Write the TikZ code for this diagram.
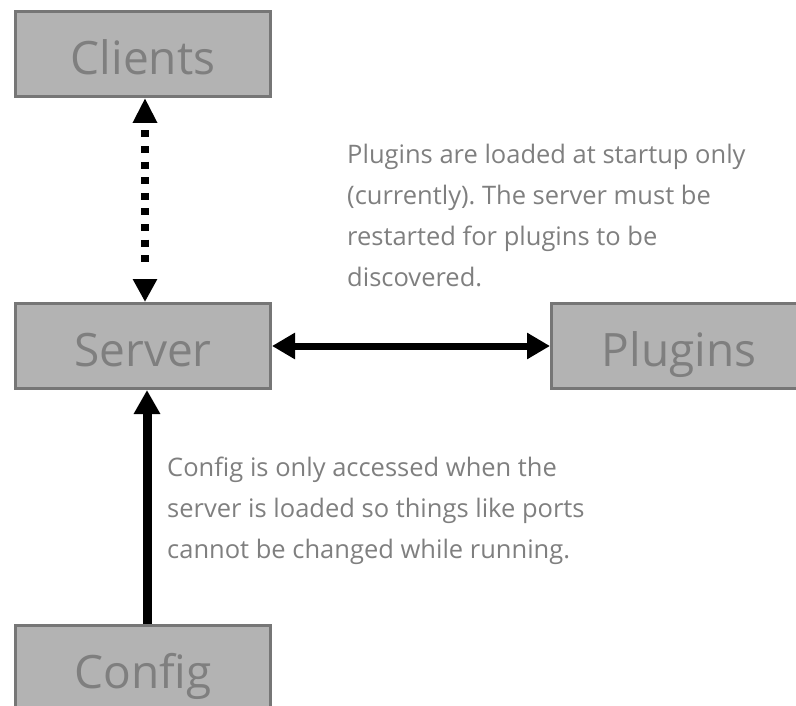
\documentclass[tikz,border=0pt]{standalone}
\usepackage{fontspec}
\setmainfont{Open Sans}[Ligatures=NoCommon]
\usetikzlibrary{arrows.meta}
\definecolor{boxfill}{HTML}{B3B3B3}
\definecolor{boxline}{HTML}{767676}
\definecolor{txtgray}{HTML}{7F7F7F}
\frenchspacing
\begin{document}
\begin{tikzpicture}[x=1pt,y=-1pt,
  box/.style={draw=boxline, fill=boxfill, line width=3pt, minimum width=255pt,
    minimum height=85pt, text=txtgray, font=\fontsize{46}{56}\selectfont,
    text height=41pt, text depth=0pt, inner sep=0pt},
  note/.style={text=txtgray, font=\fontsize{25.5}{41}\selectfont, align=left,
    inner sep=0pt, anchor=base west}]
\useasboundingbox (0,0) rectangle (796,706);
\clip (0,0) rectangle (796,706);
\node[box] (clients) at (143,54) {Clients};
\node[box] (server) at (143,346) {Server};
\node[box] (plugins) at (679,346) {Plugins};
\node[box] (config) at (143,668) {Config};
\node[note] (n1) at (347,286) {Plugins are loaded at startup only\\(currently). The server must be\\restarted for plugins to be\\discovered.};
\node[note] (n2) at (167,558) {Config is only accessed when the\\server is loaded so things like ports\\cannot be changed while running.};
\draw[line width=7.5pt,
  dash pattern={on 7pt off 8.6pt on 7pt off 8.6pt on 7pt off 8.6pt on 7pt off 8.6pt on 7pt off 8.6pt on 7pt off 8.6pt on 7pt off 8.6pt on 7pt off 8.6pt on 7pt off 25.2pt},
  dash phase=148pt,
  {Triangle[length=25pt,width=23pt]}-{Triangle[length=23pt,width=23pt]}]
  ([xshift=2pt]clients.south) -- ([xshift=2pt]server.north);
\draw[line width=7pt, {Triangle[length=23pt,width=25pt]}-{Triangle[length=23pt,width=25pt]}]
  (server.east) -- (plugins.west);
\draw[line width=9pt, -{Triangle[length=24pt,width=25pt]}]
  ([xshift=4pt]config.north) -- ([xshift=4pt]server.south);
\end{tikzpicture}
\end{document}
